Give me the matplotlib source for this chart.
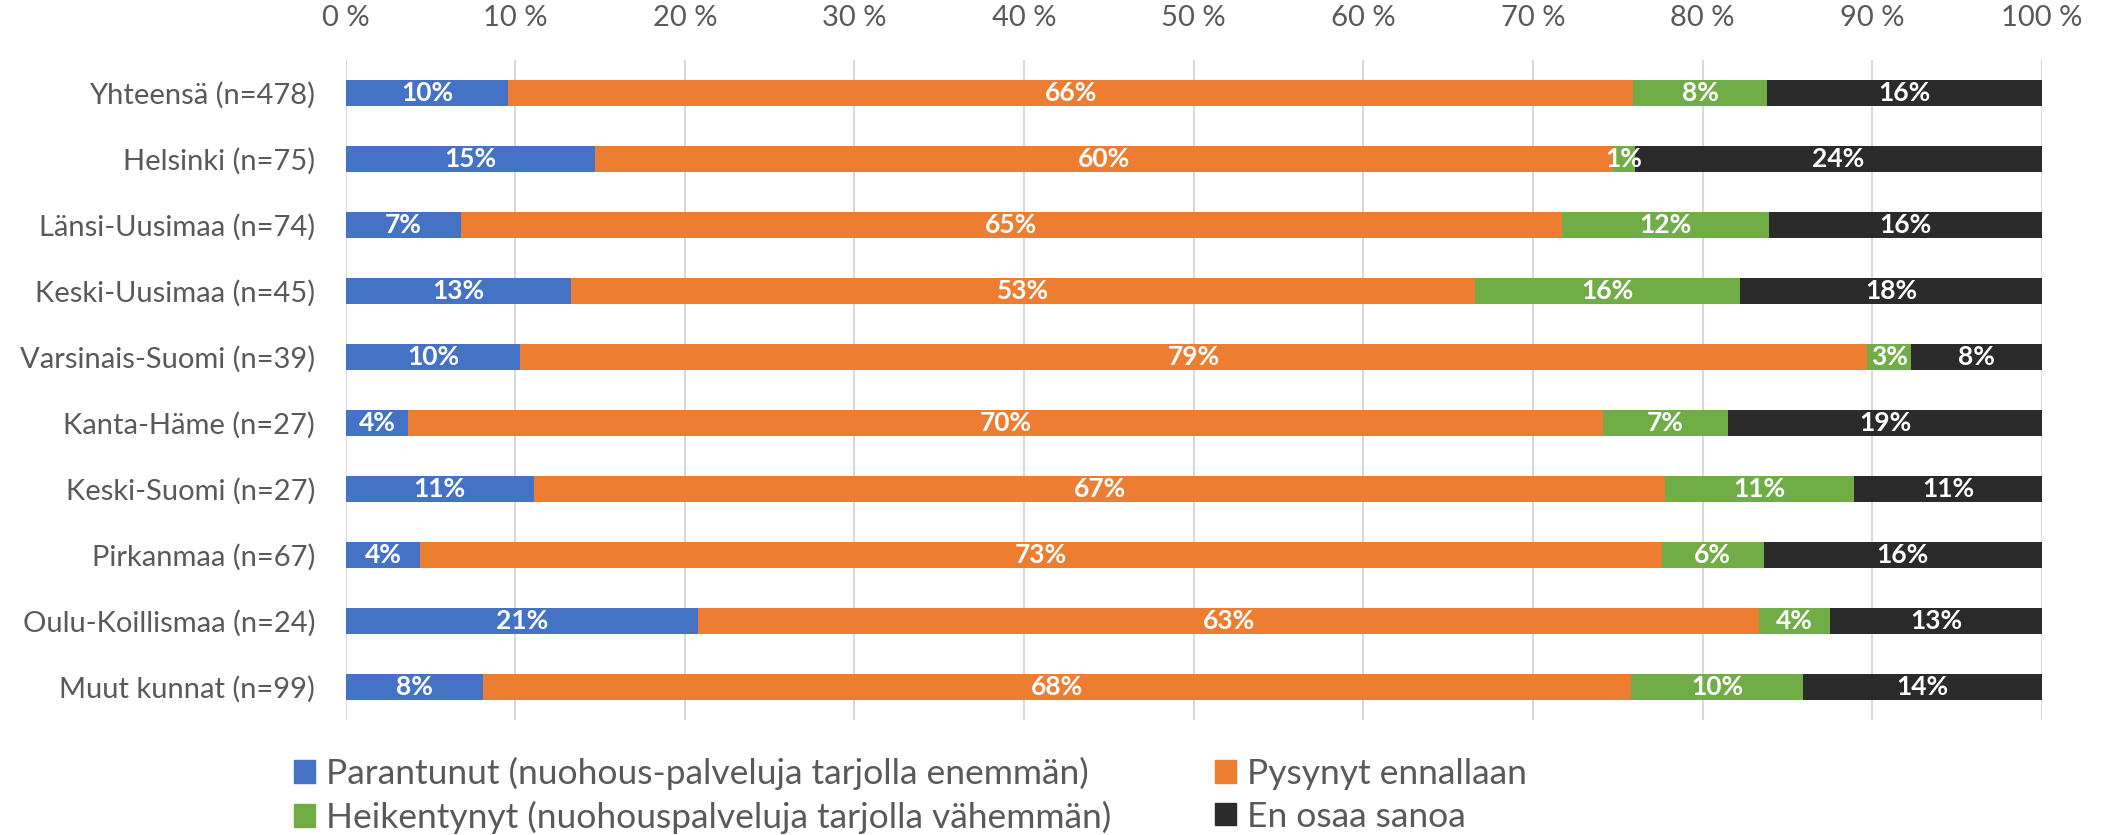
import matplotlib.pyplot as plt
import numpy as np
from matplotlib.patches import Patch
from matplotlib.ticker import FuncFormatter, MultipleLocator

plt.rcParams["font.family"] = ["Lato", "DejaVu Sans"]

categories = [
    "Yhteensä (n=478)",
    "Helsinki (n=75)",
    "Länsi-Uusimaa (n=74)",
    "Keski-Uusimaa (n=45)",
    "Varsinais-Suomi (n=39)",
    "Kanta-Häme (n=27)",
    "Keski-Suomi (n=27)",
    "Pirkanmaa (n=67)",
    "Oulu-Koillismaa (n=24)",
    "Muut kunnat (n=99)",
]

parantunut = [9.6, 14.7, 6.8, 13.3, 10.3, 3.7, 11.1, 4.4, 20.8, 8.1]
pysynyt = [66.3, 60.0, 64.9, 53.3, 79.4, 70.4, 66.7, 73.2, 62.5, 67.7]
heikentynyt = [7.9, 1.3, 12.2, 15.6, 2.6, 7.4, 11.1, 6.0, 4.2, 10.1]
en_osaa = [16.2, 24.0, 16.1, 17.8, 7.7, 18.5, 11.1, 16.4, 12.5, 14.1]

series_names = [
    "Parantunut (nuohous-palveluja tarjolla enemmän)",
    "Pysynyt ennallaan",
    "Heikentynyt (nuohouspalveluja tarjolla vähemmän)",
    "En osaa sanoa",
]
colors = ["#4472C4", "#ED7D31", "#70AD47", "#2B2B2B"]

fig = plt.figure(figsize=(21.11, 8.35), dpi=100)
ax = fig.add_axes([0.1637, 0.1377, 0.9673 - 0.1637, 0.9281 - 0.1377])

y = np.arange(len(categories))
left = np.zeros(len(categories))
for vals, name, col in zip([parantunut, pysynyt, heikentynyt, en_osaa], series_names, colors):
    vals = np.array(vals)
    ax.barh(y, vals, left=left, height=0.4, color=col, label=name, zorder=3)
    for yi, l, v in zip(y, left, vals):
        ax.text(l + v / 2, yi, f"{int(v + 0.5)}%", ha="center", va="center",
                color="white", fontsize=19, fontweight="bold", zorder=4)
    left += vals

ax.set_xlim(0, 100)
ax.set_ylim(len(categories) - 0.5, -0.5)
ax.set_yticks(y)
ax.set_yticklabels(categories)
ax.xaxis.set_major_locator(MultipleLocator(10))
ax.xaxis.set_major_formatter(FuncFormatter(lambda v, p: f"{v:.0f} %"))
ax.xaxis.tick_top()
ax.tick_params(axis="x", length=0, pad=21, labelsize=21, labelcolor="#595959")
ax.tick_params(axis="y", length=0, pad=22, labelsize=21, labelcolor="#595959")
ax.grid(axis="x", color="#D9D9D9", lw=1.5, zorder=0)
for s in ax.spines.values():
    s.set_visible(False)

handles = [Patch(color=c) for c in colors]
order = [0, 2, 1, 3]
fig.legend([handles[i] for i in order], [series_names[i] for i in order],
           ncol=2, loc="center left", bbox_to_anchor=(0.124, 0.0475),
           frameon=False, fontsize=25.5, labelcolor="#595959",
           handlelength=0.6, handleheight=0.6, handletextpad=0.3,
           columnspacing=2.95, labelspacing=0.3)

fig.savefig("out.png")
